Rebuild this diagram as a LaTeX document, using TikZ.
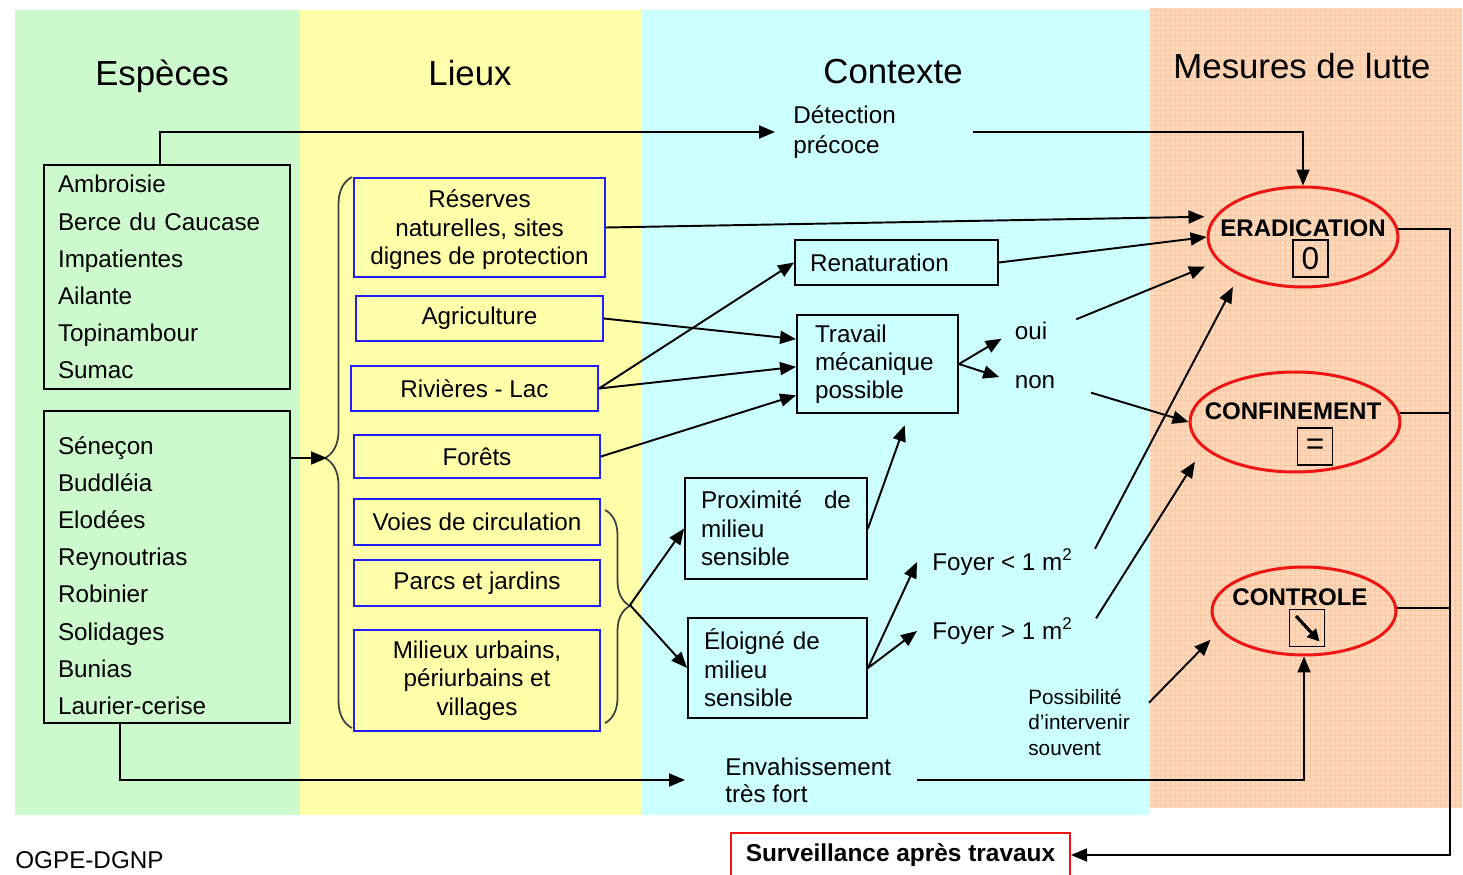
\documentclass[tikz,border=0pt]{standalone}
\usepackage{fontspec}
\setmainfont{Liberation Sans}
\usetikzlibrary{arrows.meta,shapes.geometric,decorations.pathreplacing,calc}
\definecolor{bgG}{RGB}{205,250,205}
\definecolor{bgY}{RGB}{255,255,170}
\definecolor{bgC}{RGB}{204,255,255}
\definecolor{bgO}{RGB}{254,216,184}
\definecolor{gridO}{RGB}{248,200,164}
\definecolor{boxB}{RGB}{30,30,255}
\definecolor{redE}{RGB}{238,20,20}
\begin{document}
\begin{tikzpicture}[x=0.02cm,y=-0.02cm,
  title/.style={font=\fontsize{19.8}{22}\selectfont, inner sep=0, anchor=base},
  spbox/.style={draw=black, line width=1.1pt, align=left, inner xsep=0.28cm,
    minimum width=4.92cm, text width=4.36cm, font=\fontsize{13.8}{21.1}\selectfont},
  lbox/.style={draw=boxB, line width=1.1pt, align=center, inner sep=0,
    font=\fontsize{13.8}{16.2}\selectfont},
  cbox/.style={draw=black, line width=1.1pt, align=left,
    font=\fontsize{13.8}{16.2}\selectfont},
  txt/.style={inner sep=0, font=\fontsize{13.8}{16.2}\selectfont},
  ell/.style={draw=redE, line width=1.7pt, ellipse, inner sep=0},
  elab/.style={inner sep=0, font=\fontsize{13.7}{14}\selectfont\bfseries},
  sym/.style={draw=black, line width=1.1pt, minimum width=0.7cm, minimum height=0.74cm,
    inner sep=0, font=\fontsize{18}{18}\selectfont},
  conn/.style={draw=black, line width=1.1pt, -{Triangle[length=0.32cm,width=0.26cm]}},
  plain/.style={draw=black, line width=1.1pt},
  bracestyle/.style={draw=black!75, line width=1pt, decorate}]
\useasboundingbox (0,0) rectangle (1463,875);
\fill[white] (0,0) rectangle (1463,875);
% backgrounds
\fill[bgG] (15,10) rectangle (300,815);
\fill[bgY] (300,10) rectangle (642,815);
\fill[bgC] (642,10) rectangle (1150,815);
\fill[bgO] (1150,8) rectangle (1462,808);
\draw[gridO, line width=0.3pt, step=0.1cm] (1150,8) grid (1462,808);
% titles
\node[title] (tesp) at (162,85.5) {Espèces};
\node[title] (tlie) at (470,85.5) {Lieux};
\node[title] (tctx) at (893,83.5) {Contexte};
\node[title] (tmes) at (1302,78.5) {Mesures de lutte};
% species
\node[spbox, minimum height=4.48cm] (sp1) at (167,277)
  {Ambroisie\\Berce du Caucase\\Impatientes\\Ailante\\Topinambour\\Sumac};
\node[spbox, minimum height=6.24cm] (sp2) at (167,567)
  {\rule{0pt}{20pt}Séneçon\\Buddléia\\Elodées\\Reynoutrias\\Robinier\\Solidages\\Bunias\\Laurier-cerise};
% lieux
\node[lbox, minimum width=5.02cm, minimum height=1.98cm] (res) at (479.5,227.5)
  {\rule{0pt}{13pt}Réserves\\naturelles, sites\\dignes de protection};
\node[lbox, minimum width=4.94cm, minimum height=0.9cm] (agr) at (479.5,318.5) {Agriculture};
\node[lbox, minimum width=4.94cm, minimum height=0.9cm] (riv) at (474.5,388.5) {Rivières - Lac};
\node[lbox, minimum width=4.92cm, minimum height=0.86cm] (for) at (477,456.5) {Forêts};
\node[lbox, minimum width=4.92cm, minimum height=0.92cm] (voi) at (477,522) {Voies de circulation};
\node[lbox, minimum width=4.92cm, minimum height=0.92cm] (par) at (477,583) {Parcs et jardins};
\node[lbox, minimum width=4.92cm, minimum height=2.02cm] (mil) at (477,680.5)
  {Milieux urbains,\\périurbains et\\villages};
% braces
\draw[bracestyle, decoration={brace, amplitude=0.54cm, aspect=0.49}] (352,728) -- (352,177);
\coordinate (btip) at (327,458);
\draw[bracestyle, decoration={brace, amplitude=0.5cm, aspect=0.45}] (605,510) -- (605,723);
\coordinate (stip) at (630,605);
% contexte
\node[txt, anchor=west, align=left, font=\fontsize{13.8}{17}\selectfont] (det) at (793,132) {Détection\\précoce};
\node[cbox, minimum width=4.06cm, minimum height=0.9cm, inner xsep=0.3cm, text width=3.46cm] (ren) at (896.5,262.5) {Renaturation};
\node[cbox, minimum width=3.22cm, minimum height=1.96cm, inner xsep=0.36cm, text width=2.5cm,
  font=\fontsize{13.8}{15.9}\selectfont] (trav) at (877.5,364) {Travail\\mécanique\\possible};
\node[txt] (oui) at (1031,331) {oui};
\node[txt] (non) at (1035,382) {non};
\node[cbox, minimum width=3.64cm, minimum height=2.02cm, inner xsep=0.32cm, text width=3.0cm] (prox) at (776,528.5)
  {Proximité\hfill de\\milieu\\sensible};
\node[cbox, minimum width=3.58cm, minimum height=2.0cm, inner xsep=0.32cm, text width=2.94cm] (elo) at (777.5,668)
  {Éloigné de\\milieu\\sensible};
\node[txt, anchor=west, inner xsep=0.3cm] (fy1) at (917,562) {Foyer < 1 m\textsuperscript{2}};
\node[txt, anchor=west, inner xsep=0.3cm] (fy2) at (917,631) {Foyer > 1 m\textsuperscript{2}};
\node[txt, anchor=west, align=left, font=\fontsize{11.8}{14.5}\selectfont] (poss) at (1028,722)
  {Possibilité\\d'intervenir\\souvent};
\node[txt, anchor=west, align=left, font=\fontsize{13.8}{15.3}\selectfont] (env) at (725,780)
  {Envahissement\\très fort};
% mesures
\node[ell, minimum width=3.8cm, minimum height=2cm] (erad) at (1303,237) {};
\node[elab] (eradl) at (1303,228) {ERADICATION};
\node[sym] (erads) at (1310.5,258.5) {0};
\node[ell, minimum width=4.2cm, minimum height=2cm] (conf) at (1295,422) {};
\node[elab] (confl) at (1293,411) {CONFINEMENT};
\node[sym] (confs) at (1315,446.5) {=};
\node[ell, minimum width=3.68cm, minimum height=1.76cm] (ctrl) at (1304,611) {};
\node[elab] (ctrll) at (1300,597) {CONTROLE};
\node[sym] (ctrls) at (1307,628) {};
\draw[line width=1.8pt, -{Triangle[length=0.24cm,width=0.24cm]}]
  ([shift={(0.15cm,-0.15cm)}]ctrls.north west) -- ([shift={(-0.12cm,0.12cm)}]ctrls.south east);
\node[draw=redE, line width=1.2pt, minimum width=6.78cm, minimum height=0.88cm, inner sep=0,
  font=\fontsize{13.9}{15}\selectfont\bfseries] (surv) at (900.5,855) {Surveillance après travaux};
\node[txt, anchor=west] (ogpe) at (15,860) {OGPE-DGNP};
\coordinate (bus) at (1450,855);
% connectors
\draw[conn, shorten >=0.36cm] ([xshift=-0.14cm]sp1.north) |- (det.west);
\draw[conn, shorten <=1.54cm] (det.east) -| (erad.north);
\draw[conn, shorten >=0.8cm] ([xshift=-0.94cm]sp2.south) |- (env.west);
\draw[conn, shorten <=0.52cm] (env.east) -| (ctrl.south);
\draw[conn] (sp2.east |- btip) -- (btip);
\draw[conn] (stip) -- (prox.west);
\draw[conn] (stip) -- (elo.west);
\draw[conn, shorten >=0.2cm] (res.east) -- (erad.167);
\draw[conn] (agr.east) -- (trav.163);
\draw[conn] (riv.east) -- (ren.west);
\draw[conn] (riv.east) -- (trav.182);
\draw[conn] (for.east) -- (trav.201);
\draw[conn, shorten >=0.24cm] (prox.east) -- (trav.302);
\draw[conn] (ren.east) -- (erad.west);
\draw[conn, shorten >=0.3cm] (trav.east) -- (oui.west);
\draw[conn, shorten >=0.32cm] (trav.east) -- (non.west);
\draw[conn, shorten <=0.62cm, shorten >=0.28cm] (oui.east) -- (erad.196);
\draw[conn, shorten <=0.74cm] (non.east) -- (conf.west);
\draw[conn, shorten <=0.3cm, shorten >=0.26cm] (fy1.east) -- (erad.211);
\draw[conn, shorten <=0.3cm, shorten >=0.32cm] (fy2.east) -- (conf.196);
\draw[conn, shorten <=0.54cm, shorten >=0.26cm] (poss.east) -- (ctrl.193);
\draw[conn] (elo.east) -- (fy1.west);
\draw[conn] (elo.east) -- (fy2.west);
\draw[conn] (erad.5) -| (bus) -- (surv.east);
\draw[plain] (conf.5) -- (conf.5 -| bus);
\draw[plain] (ctrl.2) -- (ctrl.2 -| bus);
\end{tikzpicture}
\end{document}
